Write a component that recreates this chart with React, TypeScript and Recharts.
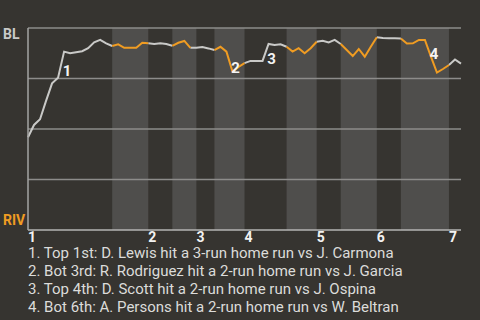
import { LineChart, Line, XAxis, YAxis, ReferenceArea, ReferenceLine, ReferenceDot } from 'recharts'

// win probability for BL after each plate appearance (1 = BL wins)
const winProb = [
  0.459, 0.52, 0.548, 0.639, 0.726, 0.754, 0.883, 0.875, 0.88, 0.885,
  0.9, 0.929, 0.941, 0.924, 0.911, 0.919, 0.902, 0.902, 0.902, 0.927,
  0.924, 0.921, 0.924, 0.921, 0.912, 0.927, 0.936, 0.902, 0.902, 0.906,
  0.899, 0.891, 0.907, 0.883, 0.784, 0.807, 0.826, 0.837, 0.837, 0.837,
  0.921, 0.916, 0.919, 0.907, 0.883, 0.9, 0.875, 0.9, 0.932, 0.937,
  0.929, 0.941, 0.921, 0.891, 0.861, 0.896, 0.858, 0.907, 0.954, 0.95,
  0.949, 0.949, 0.948, 0.923, 0.924, 0.941, 0.941, 0.858, 0.779, 0.797,
  0.817, 0.844, 0.824,
]

// plate appearance index where each inning starts
const inningStarts = [0, 20, 28, 36, 48, 58, 70]
const inningLabels = ['1', '2', '3', '4', '5', '6', '7']

// bottom halves (RIV batting) shaded
const bottomHalves: [number, number][] = [
  [14, 20], [24, 28], [31, 36], [43, 48], [52, 58], [62, 70],
]
// stretches drawn in RIV colour
const rivStretches: [number, number][] = [
  [14, 20], [24, 27], [31, 36], [43, 48], [52, 58], [62, 70],
]

const eventIdx = [6, 34, 40, 67]
const eventNotes = [
  '1. Top 1st: D. Lewis hit a 3-run home run vs J. Carmona',
  '2. Bot 3rd: R. Rodriguez hit a 2-run home run vs J. Garcia',
  '3. Top 4th: D. Scott hit a 2-run home run vs J. Ospina',
  '4. Bot 6th: A. Persons hit a 2-run home run vs W. Beltran',
]

const gridValues = [0.25, 0.5, 0.75, 1]

const BG = '#363430'
const BAND = '#4f4e4c'
const GRAY = '#c9c9c7'
const ORANGE = '#f09c22'
const FONT = 'Roboto, "Noto Sans", sans-serif'

const inRiv = (i: number) => rivStretches.some(([a, b]) => i >= a && i <= b)
const inBl = (i: number) => !rivStretches.some(([a, b]) => i > a && i < b)

const data = winProb.map((p, i) => ({
  i,
  bl: inBl(i) ? p : null,
  riv: inRiv(i) ? p : null,
}))

const labelOffsets = [
  { dx: 3, dy: 24 },
  { dx: 3, dy: 1 },
  { dx: 3, dy: 20 },
  { dx: 3, dy: 2 },
]

function XTick({ x, y, payload }: any) {
  const k = inningStarts.indexOf(payload.value)
  return (
    <text x={x} y={y + 12} textAnchor="start" fill="#f2f2f2" fontSize={14} fontWeight="bold" fontFamily={FONT}>
      {inningLabels[k]}
    </text>
  )
}

function YTick({ y, payload }: any) {
  const top = payload.value === 1
  return (
    <text x={3} y={top ? y + 11 : y - 5} textAnchor="start" fill={top ? GRAY : ORANGE} fontSize={14} fontWeight="bold" fontFamily={FONT}>
      {top ? 'BL' : 'RIV'}
    </text>
  )
}

export default function App() {
  return (
    <div style={{ position: 'fixed', left: 0, top: 0, width: 480, height: 320, background: BG, overflow: 'hidden' }}>
      <LineChart width={480} height={245} data={data} margin={{ top: 28, right: 19, left: 0, bottom: 0 }}>
        <XAxis
          dataKey="i"
          type="number"
          domain={[0, winProb.length - 1]}
          ticks={inningStarts}
          tick={<XTick />}
          tickLine={false}
          tickSize={0}
          tickMargin={0}
          axisLine={{ stroke: '#b5b5b3', strokeWidth: 1.5 }}
          height={15}
          interval={0}
        />
        <YAxis
          type="number"
          domain={[0, 1]}
          ticks={[0, 1]}
          tick={<YTick />}
          tickLine={false}
          axisLine={{ stroke: '#a5a5a3', strokeWidth: 1.5 }}
          width={28}
        />
        {bottomHalves.map(([a, b]) => (
          <ReferenceArea key={a} x1={a} x2={b} y1={0} y2={1} fill={BAND} fillOpacity={1} stroke="none" />
        ))}
        {gridValues.map((v) => (
          <ReferenceLine key={v} y={v} stroke="#8d8c8a" strokeWidth={1.5} />
        ))}
        <Line dataKey="bl" stroke={GRAY} strokeWidth={2} dot={false} isAnimationActive={false} connectNulls={false} />
        <Line dataKey="riv" stroke={ORANGE} strokeWidth={2} dot={false} isAnimationActive={false} connectNulls={false} />
        {eventIdx.map((idx, k) => (
          <ReferenceDot
            key={idx}
            x={idx}
            y={winProb[idx]}
            r={0}
            fill="none"
            stroke="none"
            label={(props: any) => {
              const vb = props.viewBox || {}
              const cx = (vb.x ?? 0) + (vb.width ?? 0) / 2
              const cy = (vb.y ?? 0) + (vb.height ?? 0) / 2
              return (
                <text x={cx + labelOffsets[k].dx} y={cy + labelOffsets[k].dy} textAnchor="middle" fill="#f4f4f4" fontSize={15} fontWeight="bold" fontFamily={FONT}>
                  {String(k + 1)}
                </text>
              )
            }}
          />
        ))}
      </LineChart>
      <div style={{ position: 'absolute', left: 28, top: 244, fontFamily: FONT, fontSize: 15, lineHeight: '18px', color: '#dcdcda' }}>
        {eventNotes.map((t) => (
          <div key={t} style={{ whiteSpace: 'nowrap' }}>{t}</div>
        ))}
      </div>
    </div>
  )
}
